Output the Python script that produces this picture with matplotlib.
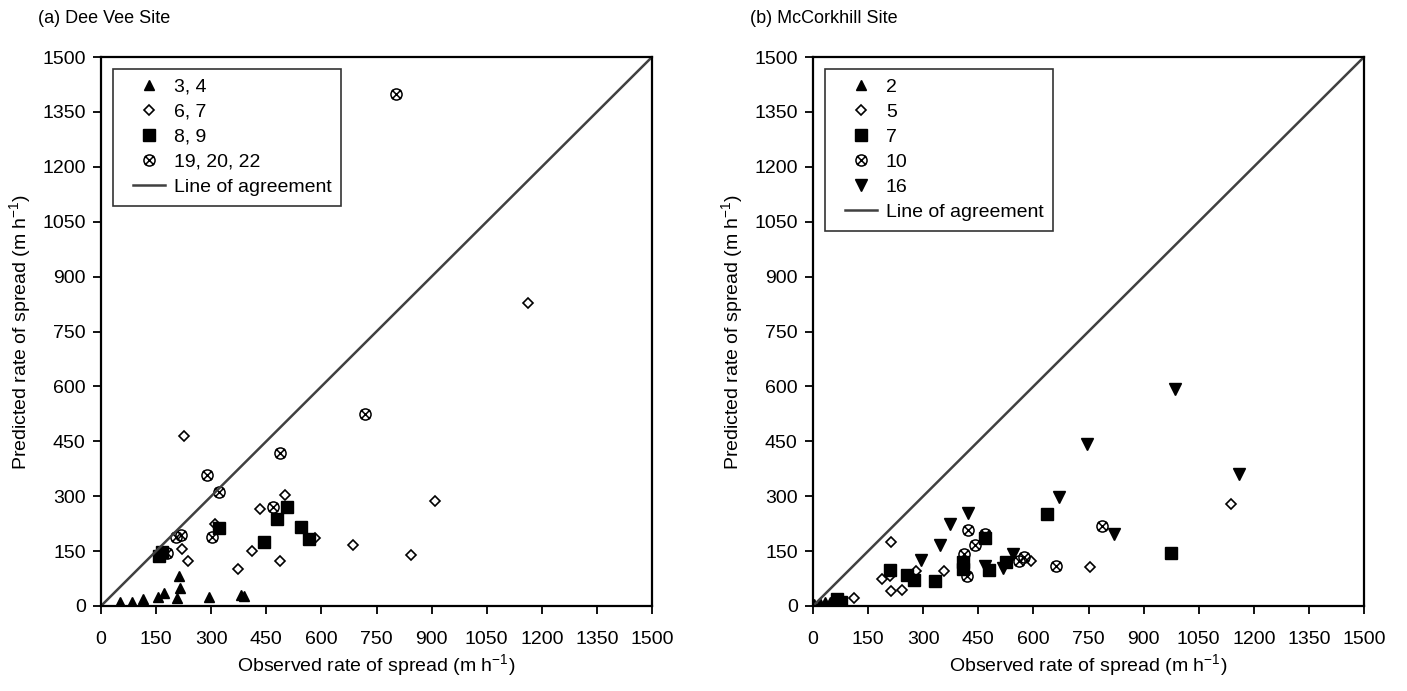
import numpy as np
import matplotlib
matplotlib.use("Agg")
import matplotlib.pyplot as plt
from matplotlib.path import Path
from matplotlib.lines import Line2D
from matplotlib.legend_handler import HandlerLine2D

plt.rcParams['font.family'] = ['Liberation Sans', 'DejaVu Sans']
plt.rcParams['mathtext.fontset'] = 'custom'
plt.rcParams['mathtext.rm'] = 'Liberation Sans'

# (a) Dee Vee Site, observed vs predicted rate of spread (m/h)
a_34_obs = [52, 85, 113, 155, 172, 208, 214, 211, 294, 382, 388]
a_34_pred = [12, 12, 18, 24, 36, 21, 50, 83, 25, 30, 28]
a_67_obs = [226, 220, 238, 311, 373, 412, 434, 488, 502, 582, 686, 1162, 908, 843]
a_67_pred = [464, 155, 124, 224, 101, 151, 265, 124, 304, 185, 168, 828, 287, 139]
a_89_obs = [159, 165, 322, 445, 478, 507, 544, 565]
a_89_pred = [136, 148, 212, 175, 239, 270, 216, 182]
a_19_obs = [803, 720, 488, 289, 320, 467, 302, 204, 217, 181]
a_19_pred = [1400, 525, 418, 359, 312, 271, 189, 189, 195, 145]

# (b) McCorkhill Site
b_2_obs = [3, 18, 33, 46, 60, 82]
b_2_pred = [5, 8, 10, 10, 9, 8]
b_5_obs = [212, 187, 210, 212, 243, 112, 357, 280, 594, 753, 1137]
b_5_pred = [176, 75, 83, 40, 45, 23, 96, 96, 124, 106, 280]
b_7_obs = [210, 257, 275, 332, 66, 75, 407, 407, 469, 478, 525, 637, 974]
b_7_pred = [99, 86, 72, 67, 19, 10, 119, 101, 185, 99, 119, 251, 145]
b_10_obs = [421, 441, 469, 412, 418, 562, 575, 662, 786]
b_10_pred = [207, 166, 196, 142, 81, 124, 133, 110, 219]
b_16_obs = [423, 372, 346, 294, 469, 516, 544, 986, 746, 1159, 671, 819]
b_16_pred = [254, 224, 166, 125, 110, 105, 142, 594, 442, 360, 299, 196]

ticks = np.arange(0, 1501, 150)

# circle with a cross inside
circ = Path.unit_circle()
c1 = Path([(-0.8, -0.8), (0.8, 0.8)], [Path.MOVETO, Path.LINETO])
c2 = Path([(-0.8, 0.8), (0.8, -0.8)], [Path.MOVETO, Path.LINETO])
circx = Path.make_compound_path(circ, c1, c2)

fig = plt.figure(figsize=(14.07, 6.91), dpi=100)
ax1 = fig.add_axes([101 / 1407, 85 / 691, 551 / 1407, 549 / 691])
ax2 = fig.add_axes([813 / 1407, 85 / 691, 551 / 1407, 549 / 691])


def style(ax, title):
    ax.set_xlim(0, 1500)
    ax.set_ylim(0, 1500)
    ax.set_xticks(ticks)
    ax.set_yticks(ticks)
    ax.tick_params(direction='out', length=6, width=1.3, labelsize=14,
                   top=False, right=False)
    ax.tick_params(axis='x', pad=12)
    ax.tick_params(axis='y', pad=5)
    for s in ax.spines.values():
        s.set_linewidth(1.6)
    ax.set_xlabel('Observed rate of spread (m h$^{-1}$)', fontsize=14, labelpad=3)
    ax.set_ylabel('Predicted rate of spread (m h$^{-1}$)', fontsize=14, labelpad=6)
    ax.text(-0.115, 1.07, title, transform=ax.transAxes, fontsize=13,
            ha='left', va='center')


def leg(ax):
    lg = ax.legend(loc='upper left', fontsize=14, frameon=True, fancybox=False,
                   edgecolor='black', borderaxespad=0.6, labelspacing=0.38,
                   handlelength=2.2, handletextpad=0.45, borderpad=0.5,
                   handler_map={Line2D: HandlerLine2D(xpad=0.55)})
    lg.get_frame().set_linewidth(1.2)


kw = dict(linestyle='none', color='black', markeredgecolor='black')

ax1.plot(a_34_obs, a_34_pred, marker='^', ms=7.5, label='3, 4', **kw)
ax1.plot(a_67_obs, a_67_pred, marker='D', ms=5.4, mfc='white', mew=1.2,
         label='6, 7', **kw)
ax1.plot(a_89_obs, a_89_pred, marker='s', ms=8, label='8, 9', **kw)
ax1.plot(a_19_obs, a_19_pred, marker=circx, ms=8, mfc='none', mew=1.1,
         label='19, 20, 22', **kw)
ax1.plot([0, 1500], [0, 1500], color='#404040', lw=1.8, label='Line of agreement')
style(ax1, '(a) Dee Vee Site')
leg(ax1)

ax2.plot(b_2_obs, b_2_pred, marker='^', ms=7.5, label='2', **kw)
ax2.plot(b_5_obs, b_5_pred, marker='D', ms=5.4, mfc='white', mew=1.2,
         label='5', **kw)
ax2.plot(b_7_obs, b_7_pred, marker='s', ms=8, label='7', **kw)
ax2.plot(b_10_obs, b_10_pred, marker=circx, ms=8, mfc='none', mew=1.1,
         label='10', **kw)
ax2.plot(b_16_obs, b_16_pred, marker='v', ms=8, label='16', **kw)
ax2.plot([0, 1500], [0, 1500], color='#404040', lw=1.8, label='Line of agreement')
style(ax2, '(b) McCorkhill Site')
leg(ax2)

fig.savefig('out.png', dpi=100)
